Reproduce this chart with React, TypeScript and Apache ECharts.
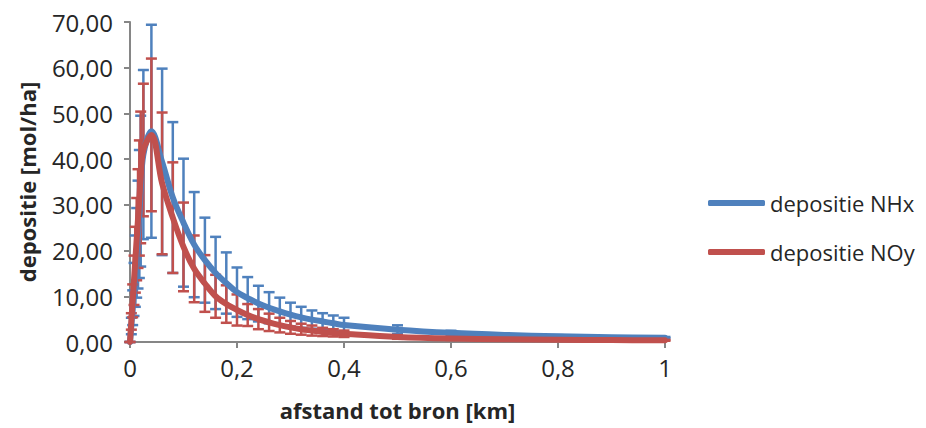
import React, { useEffect, useRef } from "react";
import * as echarts from "echarts";

const distanceKm = [
  0, 0.0025, 0.005, 0.0075, 0.01, 0.0125, 0.015, 0.0175, 0.02, 0.025,
  0.04, 0.06, 0.08, 0.1, 0.12, 0.14, 0.16, 0.18, 0.2, 0.22, 0.24, 0.26, 0.28, 0.3,
  0.32, 0.34, 0.36, 0.38, 0.4, 0.5, 0.6, 0.7, 0.8, 0.9, 1.0,
];

const nhxValues = [
  0, 3.5, 7.5, 11.5, 15.5, 19.5, 23.5, 28, 33, 41,
  46.1, 39.4, 31.6, 26.1, 21.3, 17.9, 15.1, 12.9, 10.9, 9.6, 8.4, 7.5, 6.7, 6.0,
  5.4, 4.9, 4.5, 4.1, 3.7, 2.7, 2.0, 1.55, 1.25, 1.05, 0.95,
];
const nhxErrors = [
  0, 1.8, 3.8, 5.8, 7.8, 9.8, 11.8, 14, 16.5, 18.5,
  23.3, 20.4, 16.5, 14.0, 11.5, 9.3, 7.9, 6.7, 5.4, 4.6, 3.9, 3.4, 3.0, 2.6,
  2.3, 2.0, 1.8, 1.7, 1.6, 0.95, 0.45, 0.3, 0.25, 0.2, 0.15,
];

const noyValues = [
  0, 4.5, 9, 13.5, 18, 22.5, 27, 31.5, 36, 42,
  45.3, 34.7, 27.2, 20.8, 16.0, 12.8, 10.0, 8.3, 7.0, 5.9, 5.0, 4.3, 3.7, 3.2,
  2.8, 2.5, 2.2, 2.0, 1.8, 1.1, 0.75, 0.6, 0.5, 0.42, 0.37,
];
const noyErrors = [
  0, 1.8, 3.6, 5.4, 7.2, 9, 10.8, 12.6, 14.4, 14.5,
  16.7, 15.5, 12.1, 9.7, 7.3, 6.2, 4.7, 4.1, 3.4, 2.4, 2.2, 1.9, 1.6, 1.4,
  1.2, 1.1, 0.9, 0.8, 0.7, 0.4, 0.3, 0.2, 0.15, 0.12, 0.1,
];

const seriesNames = ["depositie NHx", "depositie NOy"];
const colors = ["#4F81BD", "#C0504D"];

const FONT = "'Open Sans', 'Noto Sans', sans-serif";
const TEXT = "#262626";
const AXIS = "#868686";

function errorBarSeries(name: string, color: string, values: number[], errors: number[], z: number) {
  const data = distanceKm.map((x, i) => [x, values[i] - errors[i], values[i] + errors[i]]);
  return {
    type: "custom",
    name,
    z,
    silent: true,
    data,
    encode: { x: 0, y: [1, 2] },
    renderItem: (params: any, api: any) => {
      const x = api.value(0);
      const lo = api.coord([x, api.value(1)]);
      const hi = api.coord([x, api.value(2)]);
      const half = 5.5;
      const style = { stroke: color, lineWidth: 2.5 };
      return {
        type: "group",
        children: [
          { type: "line", shape: { x1: lo[0], y1: lo[1], x2: hi[0], y2: hi[1] }, style },
          { type: "line", shape: { x1: hi[0] - half, y1: hi[1], x2: hi[0] + half, y2: hi[1] }, style },
          { type: "line", shape: { x1: lo[0] - half, y1: lo[1], x2: lo[0] + half, y2: lo[1] }, style },
        ],
      };
    },
  };
}

function lineSeries(name: string, color: string, values: number[], z: number) {
  return {
    type: "line",
    name,
    z,
    smooth: 0.35,
    showSymbol: false,
    symbol: "none",
    lineStyle: { color, width: 6, cap: "round", join: "round" },
    itemStyle: { color },
    data: distanceKm.map((x, i) => [x, values[i]]),
  };
}

export default function App() {
  const ref = useRef<HTMLDivElement>(null);

  useEffect(() => {
    if (!ref.current) return;
    const chart = echarts.init(ref.current, undefined, { renderer: "svg" });
    chart.setOption({
      animation: false,
      backgroundColor: "#ffffff",
      textStyle: { fontFamily: FONT },
      grid: { left: 130, right: 261, top: 22, bottom: 86, containLabel: false },
      legend: {
        data: seriesNames,
        orient: "vertical",
        left: 708,
        top: 189,
        itemWidth: 57,
        itemHeight: 6,
        itemGap: 21,
        padding: 0,
        icon: "roundRect",
        textStyle: { fontFamily: FONT, fontSize: 22, color: TEXT, lineHeight: 28 },
      },
      xAxis: {
        type: "value",
        min: 0,
        max: 1,
        interval: 0.2,
        name: "afstand tot bron [km]",
        nameLocation: "middle",
        nameGap: 57,
        nameTextStyle: { fontFamily: FONT, fontSize: 22, fontWeight: "bold", color: TEXT },
        axisLine: { show: true, onZero: false, lineStyle: { color: AXIS, width: 2 } },
        axisTick: { show: true, length: 6, lineStyle: { color: AXIS, width: 2 } },
        splitLine: { show: false },
        axisLabel: {
          fontFamily: FONT,
          fontSize: 24,
          color: TEXT,
          margin: 13,
          formatter: (v: number) => String(Math.round(v * 10) / 10).replace(".", ","),
        },
      },
      yAxis: {
        type: "value",
        min: 0,
        max: 70,
        interval: 10,
        name: "depositie [mol/ha]",
        nameLocation: "middle",
        nameGap: 92,
        nameRotate: 90,
        nameTextStyle: { fontFamily: FONT, fontSize: 22, fontWeight: "bold", color: TEXT },
        axisLine: { show: true, lineStyle: { color: AXIS, width: 2 } },
        axisTick: { show: true, length: 6, lineStyle: { color: AXIS, width: 2 } },
        splitLine: { show: false },
        axisLabel: {
          fontFamily: FONT,
          fontSize: 24,
          color: TEXT,
          margin: 17,
          formatter: (v: number) => v.toFixed(2).replace(".", ","),
        },
      },
      series: [
        errorBarSeries("err NHx", colors[0], nhxValues, nhxErrors, 2),
        errorBarSeries("err NOy", colors[1], noyValues, noyErrors, 3),
        lineSeries(seriesNames[0], colors[0], nhxValues, 4),
        lineSeries(seriesNames[1], colors[1], noyValues, 5),
      ],
    });
    return () => chart.dispose();
  }, []);

  return (
    <div
      ref={ref}
      style={{ position: "fixed", left: 0, top: 0, width: 926, height: 428, background: "#fff" }}
    />
  );
}
